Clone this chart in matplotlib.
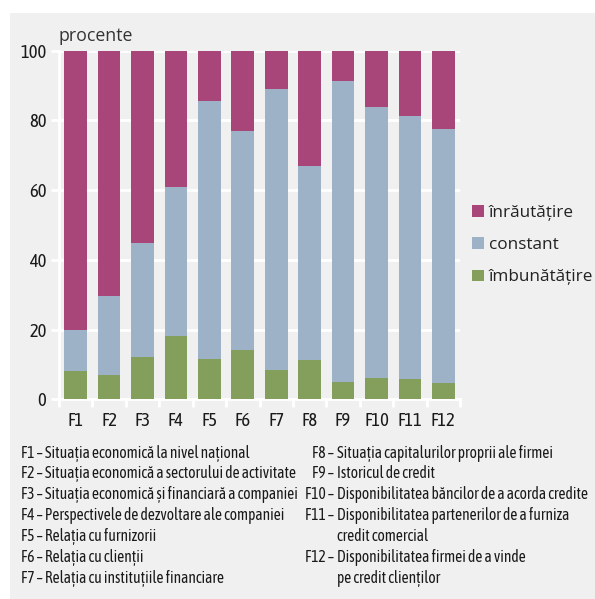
import matplotlib
matplotlib.use("Agg")
import numpy as np
import matplotlib.pyplot as plt
from matplotlib.patches import Rectangle

# ── Data ────────────────────────────────────────────────────────────────────
categories = ["F1", "F2", "F3", "F4", "F5", "F6", "F7", "F8", "F9", "F10", "F11", "F12"]
imbunatatire = [8, 7, 12.2, 18.2, 11.6, 14.1, 8.5, 11.3, 5.0, 6.2, 5.8, 4.8]
constant_top = [20, 29.5, 44.8, 60.9, 85.7, 77.1, 88.9, 66.8, 91.3, 83.8, 81.3, 77.5]
constant = [t - g for t, g in zip(constant_top, imbunatatire)]
inrautatire = [100 - t for t in constant_top]

series_names = ["înrăutățire", "constant", "îmbunătățire"]
y_ticks = [0, 20, 40, 60, 80, 100]

notes_left = [
    "F1 – Situația economică la nivel național",
    "F2 – Situația economică a sectorului de activitate",
    "F3 – Situația economică și financiară a companiei",
    "F4 – Perspectivele de dezvoltare ale companiei",
    "F5 – Relația cu furnizorii",
    "F6 – Relația cu clienții",
    "F7 – Relația cu instituțiile financiare",
]
notes_right = [
    ("F8 –", "Situația capitalurilor proprii ale firmei"),
    ("F9 –", "Istoricul de credit"),
    ("F10 –", "Disponibilitatea băncilor de a acorda credite"),
    ("F11 –", "Disponibilitatea partenerilor de a furniza"),
    ("", "credit comercial"),
    ("F12 –", "Disponibilitatea firmei de a vinde"),
    ("", "pe credit clienților"),
]

# ── Colours ─────────────────────────────────────────────────────────────────
BG = "#f0f0f0"
RED = "#a94679"
BLUE = "#9db2c6"
GREEN = "#849e5b"
TXT = "#1a1a1a"

NARROW = ["Asap Condensed", "DejaVu Sans"]
WIDE = ["Open Sans", "DejaVu Sans"]
plt.rcParams["font.family"] = NARROW

W, H = 595, 599
fig = plt.figure(figsize=(W / 100, H / 100), dpi=100)
fig.patch.set_facecolor("white")
fig.patches.append(Rectangle((10 / W, 0), 585 / W, 1 - 13 / H,
                             transform=fig.transFigure, facecolor=BG,
                             edgecolor="none", zorder=-10))

ax = fig.add_axes([59 / W, 1 - 399.3 / H, 401 / W, 348.6 / H])
ax.set_facecolor(BG)

x = np.arange(len(categories))
w = 0.68
ax.bar(x, imbunatatire, w, color=GREEN, label=series_names[2], zorder=3)
ax.bar(x, constant, w, bottom=imbunatatire, color=BLUE, label=series_names[1], zorder=3)
ax.bar(x, inrautatire, w, bottom=constant_top, color=RED, label=series_names[0], zorder=3)

ax.set_xlim(-0.5, len(categories) - 0.5)
ax.set_ylim(0, 100)
ax.set_yticks(y_ticks)
ax.set_yticklabels([str(v) for v in y_ticks], fontsize=13.3, color=TXT)
ax.set_xticks(x)
ax.set_xticklabels(categories, fontsize=13.3, color=TXT)
ax.set_xticks(np.arange(-0.5, len(categories)), minor=True)
ax.tick_params(axis="x", which="major", length=0, pad=9)
ax.tick_params(axis="x", which="minor", length=6, width=2, color="white")
ax.tick_params(axis="y", length=6, width=2, color="white", pad=3)

ax.grid(axis="y", color="white", linewidth=2, zorder=0)
for s in ["top", "right"]:
    ax.spines[s].set_visible(False)
for s in ["left", "bottom"]:
    ax.spines[s].set_color("white")
    ax.spines[s].set_linewidth(2)

fig.text(59 / W, 1 - 36 / H, "procente", fontsize=12.8, color="#333333",
         family=WIDE, va="center", ha="left")

# legend
handles, labels = ax.get_legend_handles_labels()
fig.legend(handles[::-1], labels[::-1], loc="upper left",
           bbox_to_anchor=(472 / W, 1 - 205 / H), frameon=False,
           handlelength=0.7, handleheight=0.7, handletextpad=0.3,
           labelspacing=0.95, borderpad=0, borderaxespad=0,
           labelcolor="#222222",
           prop={"family": WIDE, "size": 12.3})

# footnotes
y0 = 1 - 453 / H
dy = 20.9 / H
FS = 11.2
for i, t in enumerate(notes_left):
    fig.text(21 / W, y0 - i * dy, t, fontsize=FS, color=TXT, va="center")
for i, (k, t) in enumerate(notes_right):
    if k:
        fig.text(334 / W, y0 - i * dy, k, fontsize=FS, color=TXT,
                 va="center", ha="right")
    fig.text(337 / W, y0 - i * dy, t, fontsize=FS, color=TXT, va="center")

fig.savefig("out.png", dpi=100, facecolor=fig.get_facecolor())
